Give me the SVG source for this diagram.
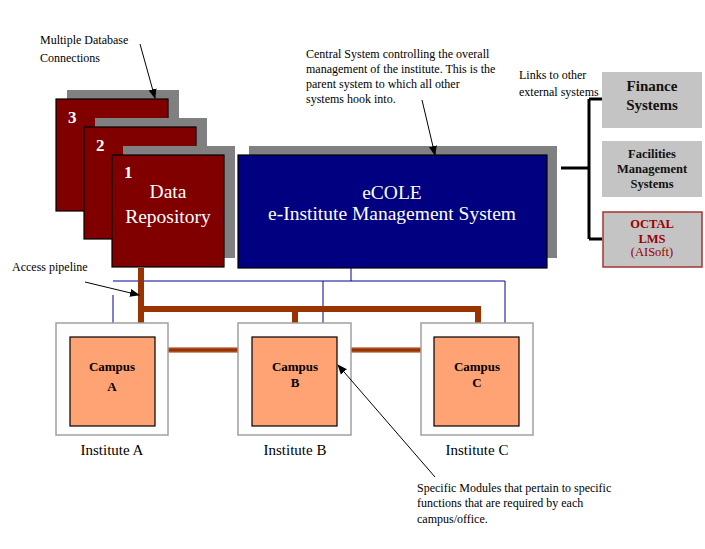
<svg xmlns="http://www.w3.org/2000/svg" width="705" height="549" viewBox="0 0 705 549">
<defs>
<marker id="ah" markerWidth="10" markerHeight="10" refX="9" refY="5" orient="auto" markerUnits="userSpaceOnUse">
<path d="M0,1 L10,5 L0,9 Z" fill="#000"/>
</marker>
<style>
.shadow{fill:#808080}
.repo{fill:#800000;stroke:#000;stroke-width:1.2}
.num{font-family:"Liberation Serif",serif;font-size:17px;font-weight:bold;fill:#fff}
.big{font-family:"Liberation Serif",serif;font-size:19.5px;fill:#fff;text-anchor:middle}
.note{font-family:"Liberation Serif",serif;font-size:12px;fill:#000}
.ext{fill:#c4c4c4}
.extt{font-family:"Liberation Serif",serif;font-weight:bold;fill:#111;text-anchor:middle}
.inst{fill:#fdfdfd;stroke:#a0a0a0;stroke-width:1.5}
.campus{fill:#ffa274;stroke:#000;stroke-width:1.2}
.ct{font-family:"Liberation Serif",serif;font-size:13px;font-weight:bold;fill:#000;text-anchor:middle}
.it{font-family:"Liberation Serif",serif;font-size:15px;fill:#000;text-anchor:middle}
.blue{stroke:#000099;stroke-width:1;fill:none}
.pipe{stroke:#993300;fill:none}
.blk{stroke:#000;stroke-width:3;fill:none}
.arr{stroke:#000;stroke-width:1;fill:none;marker-end:url(#ah)}
</style>
</defs>
<rect width="705" height="549" fill="#fff"/>

<g id="connectors">
<path class="blue" d="M351,268 V281 M113,281 H505 V323 M323,281 V323 M113,295 V323"/>
<path class="pipe" stroke-width="6" d="M141,268 V337 M141,309 H478 V337 M295,309 V337"/>
<path class="pipe" stroke-width="6" stroke="#c98a6a" stroke-opacity="0.5" d="M155,350 H252 M337,350 H434"/>
<path class="pipe" stroke-width="3.5" d="M155,350 H252 M337,350 H434"/>
<path class="blk" d="M561,168 H589 M589,99 V239 M589,99 H602 M589,239 H602"/>
</g>

<g id="repo3">
<rect class="shadow" x="67" y="90" width="112" height="112"/>
<rect class="repo" x="56" y="99" width="112" height="112"/>
<text class="num" x="68" y="123">3</text>
</g>
<g id="repo2">
<rect class="shadow" x="95" y="118" width="112" height="112"/>
<rect class="repo" x="84" y="127" width="112" height="112"/>
<text class="num" x="96" y="151">2</text>
</g>
<g id="repo1">
<rect class="shadow" x="123" y="146" width="112" height="112"/>
<rect class="repo" x="112" y="155" width="112" height="112"/>
<text class="num" x="124" y="178">1</text>
<text class="big" x="168" y="198">Data</text>
<text class="big" x="168" y="223">Repository</text>
</g>

<g id="ecole">
<rect class="shadow" x="249" y="146" width="308" height="112"/>
<rect x="238" y="155" width="309" height="113" fill="#000080" stroke="#000" stroke-width="1.2"/>
<text class="big" x="392" y="199">eCOLE</text>
<text class="big" x="392" y="220">e-Institute Management System</text>
</g>

<g id="finance">
<rect class="ext" x="602" y="72" width="100" height="56"/>
<text class="extt" font-size="15" x="652" y="91">Finance</text>
<text class="extt" font-size="15" x="652" y="110">Systems</text>
</g>
<g id="facilities">
<rect class="ext" x="602" y="141" width="100" height="56"/>
<text class="extt" font-size="12.5" x="652" y="158">Facilities</text>
<text class="extt" font-size="12.5" x="652" y="173">Management</text>
<text class="extt" font-size="12.5" x="652" y="188">Systems</text>
</g>
<g id="octal">
<rect x="603" y="212" width="99" height="55" fill="#c4c4c4" stroke="#a83232" stroke-width="1.5"/>
<text class="extt" font-size="12.5" style="fill:#990000" x="652" y="228">OCTAL</text>
<text class="extt" font-size="12.5" style="fill:#990000" x="652" y="243">LMS</text>
<text font-family="Liberation Serif, serif" font-size="12.5" fill="#990000" text-anchor="middle" x="652" y="256">(AISoft)</text>
</g>

<g id="instituteA">
<rect class="inst" x="56" y="323" width="112" height="112"/>
<rect class="campus" x="70" y="337" width="85" height="89"/>
<text class="ct" x="112" y="371">Campus</text>
<text class="ct" x="112" y="391">A</text>
<text class="it" x="112" y="455">Institute A</text>
</g>
<g id="instituteB">
<rect class="inst" x="238" y="323" width="113" height="112"/>
<rect class="campus" x="252" y="337" width="85" height="89"/>
<text class="ct" x="295" y="371">Campus</text>
<text class="ct" x="295" y="387">B</text>
<text class="it" x="295" y="455">Institute B</text>
</g>
<g id="instituteC">
<rect class="inst" x="421" y="323" width="112" height="112"/>
<rect class="campus" x="434" y="337" width="85" height="89"/>
<text class="ct" x="477" y="371">Campus</text>
<text class="ct" x="477" y="387">C</text>
<text class="it" x="477" y="455">Institute C</text>
</g>

<g id="notes">
<text class="note" x="40" y="44">Multiple Database</text>
<text class="note" x="40" y="62">Connections</text>
<text class="note" x="306" y="58">Central System controlling the overall</text>
<text class="note" x="306" y="73">management of the institute. This is the</text>
<text class="note" x="306" y="88">parent system to which all other</text>
<text class="note" x="306" y="103">systems hook into.</text>
<text class="note" x="519" y="79">Links to other</text>
<text class="note" x="519" y="96">external systems</text>
<text class="note" x="12" y="271">Access pipeline</text>
<text class="note" x="417" y="492">Specific Modules that pertain to specific</text>
<text class="note" x="417" y="507">functions that are required by each</text>
<text class="note" x="417" y="523">campus/office.</text>
</g>

<g id="arrows">
<line class="arr" x1="140" y1="44" x2="155" y2="98"/>
<line class="arr" x1="422" y1="100" x2="435" y2="155"/>
<line class="arr" x1="85" y1="282" x2="139" y2="295"/>
<line class="arr" x1="435" y1="477" x2="338" y2="365"/>
</g>
</svg>
